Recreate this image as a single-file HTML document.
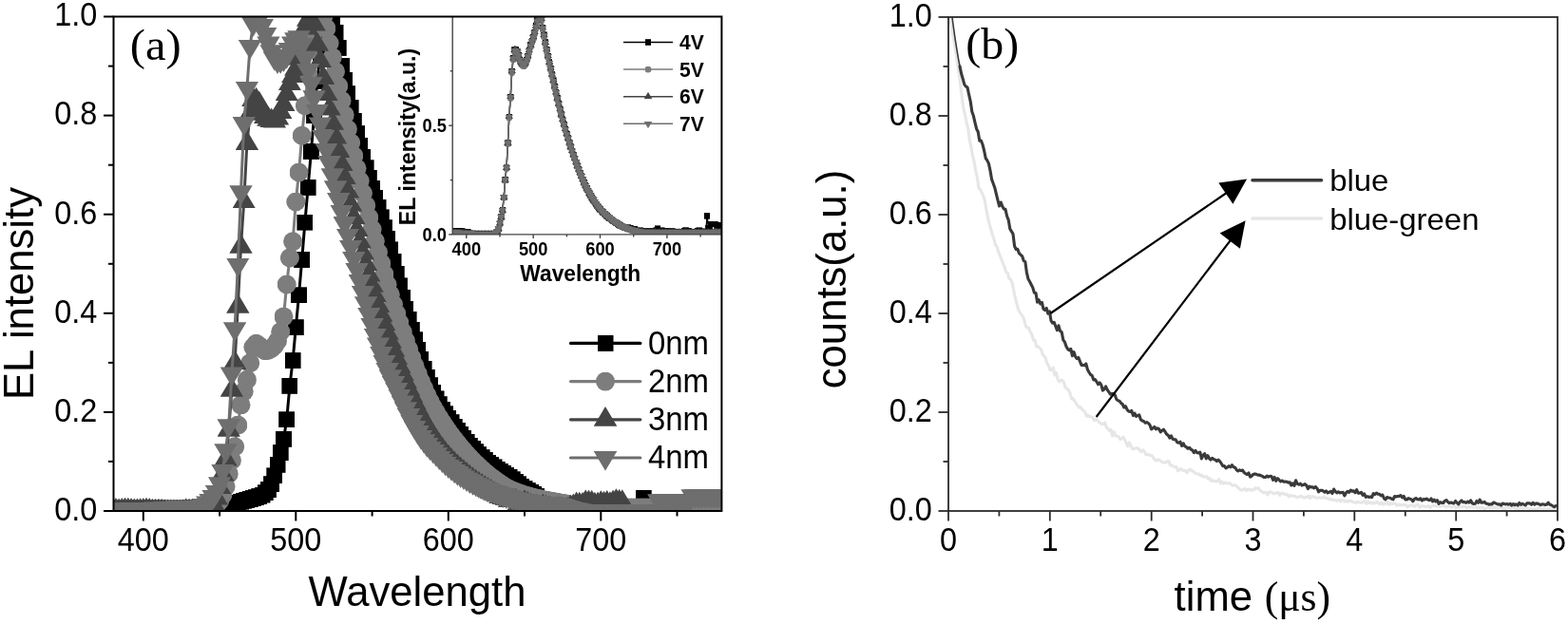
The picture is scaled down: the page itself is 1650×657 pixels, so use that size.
<!DOCTYPE html>
<html lang="en"><head><meta charset="utf-8"><title>EL spectra and decay</title>
<style>
html,body{margin:0;padding:0;background:#fff;overflow:hidden}
svg{display:block}
text{white-space:pre;fill:#000}
.s{font-family:"Liberation Sans",Arial,Helvetica,sans-serif}
.b{font-family:"Liberation Sans",Arial,Helvetica,sans-serif;font-weight:bold}
.f{font-family:"Liberation Serif","Times New Roman",Times,serif}
.m{text-anchor:middle}.e{text-anchor:end}.l{text-anchor:start}
</style></head>
<body>
<svg width="1650" height="657" viewBox="0 0 1650 657">
<defs>
<clipPath id="clipA"><rect x="119.5" y="17.5" width="639.9" height="520.5"/></clipPath>
<clipPath id="clipI"><rect x="476.2" y="17.5" width="283.2" height="229.4"/></clipPath>
<clipPath id="clipB"><rect x="998" y="18" width="641" height="520"/></clipPath>
<marker id="mS" markerUnits="userSpaceOnUse" markerWidth="17" markerHeight="17" refX="8.5" refY="8.5" viewBox="0 0 17 17"><rect width="17" height="17" fill="#000"/></marker>
<marker id="mC" markerUnits="userSpaceOnUse" markerWidth="20" markerHeight="20" refX="10" refY="10" viewBox="0 0 20 20"><circle cx="10" cy="10" r="10" fill="#7d7d7d"/></marker>
<marker id="mU" markerUnits="userSpaceOnUse" markerWidth="24.4" markerHeight="20.6" refX="12.2" refY="13.7" viewBox="0 0 24.4 20.6"><path d="M12.2 0L24.4 20.6H0z" fill="#444"/></marker>
<marker id="mD" markerUnits="userSpaceOnUse" markerWidth="24.4" markerHeight="20.6" refX="12.2" refY="6.9" viewBox="0 0 24.4 20.6"><path d="M0 0H24.4L12.2 20.6z" fill="#6e6e6e"/></marker>
<marker id="iS" markerUnits="userSpaceOnUse" markerWidth="6.6" markerHeight="6.6" refX="3.3" refY="3.3" viewBox="0 0 6.6 6.6"><rect width="6.6" height="6.6" fill="#000"/></marker>
<marker id="iC" markerUnits="userSpaceOnUse" markerWidth="7" markerHeight="7" refX="3.5" refY="3.5" viewBox="0 0 7 7"><circle cx="3.5" cy="3.5" r="3.5" fill="#7d7d7d"/></marker>
<marker id="iU" markerUnits="userSpaceOnUse" markerWidth="8.6" markerHeight="7.2" refX="4.3" refY="4.8" viewBox="0 0 8.6 7.2"><path d="M4.3 0L8.6 7.2H0z" fill="#444"/></marker>
<marker id="iD" markerUnits="userSpaceOnUse" markerWidth="8.6" markerHeight="7.2" refX="4.3" refY="2.4" viewBox="0 0 8.6 7.2"><path d="M0 0H8.6L4.3 7.2z" fill="#6e6e6e"/></marker>
</defs>
<rect width="100%" height="100%" fill="#fff"/>
<g id="dataA" clip-path="url(#clipA)">
<polyline points="118.7,538 121.9,538 125.1,538 128.3,538 131.5,538 134.8,538 138,538 141.2,538 144.4,538 147.6,538 150.8,538 154,538 157.2,538 160.4,538 163.6,538 166.9,538 170.1,538 173.3,538 176.5,538 179.7,538 182.9,538 186.1,538 189.3,538 192.5,538 195.7,538 199,538 202.2,538 205.4,538 208.6,538 211.8,538 215,538 218.2,537.9 221.4,537.8 224.6,537.6 227.8,537.3 231.1,537 234.3,536.5 237.5,535.8 240.7,534.9 243.9,533.2 247.1,531 250.3,529.2 253.5,528.1 256.7,527.2 259.9,526.4 263.1,525.5 266.4,524.6 269.6,523.7 272.8,522.6 276,521 279.2,518.8 282.4,515.6 285.6,509.7 288.8,500.9 292,489.3 295.2,476.6 298.5,462.3 301.7,441.8 304.9,406.3 308.1,379.6 311.3,344.7 314.5,310.8 317.7,273.5 320.9,234.1 324.1,197.4 327.4,159.4 330.6,121.6 333.8,85.4 337,55.4 340.2,33.1 343.4,19.9 346.6,17.5 349.8,17.5 353,34.5 356.2,50.4 359.5,69 362.7,84.3 365.9,98.7 369.1,113 372.3,127.1 375.5,140.6 378.7,153.5 381.9,165.5 385.1,176.8 388.3,187.5 391.6,198 394.8,208.2 398,218.5 401.2,228.9 404.4,239.7 407.6,251 410.8,262.9 414,275.4 417.2,288.1 420.4,300.9 423.7,313.3 426.9,325.3 430.1,336.5 433.3,347.2 436.5,357.8 439.7,368.2 442.9,378.4 446.1,388.1 449.3,397.3 452.5,405.7 455.8,413.3 459,419.9 462.2,425.7 465.4,431 468.6,435.8 471.8,440.3 475,444.7 478.2,449.1 481.4,453.4 484.6,457.5 487.9,461.5 491.1,465.4 494.3,469 497.5,472.4 500.7,475.7 503.9,478.7 507.1,481.7 510.3,484.4 513.5,487.1 516.7,489.6 520,491.9 523.2,494.1 526.4,496.2 529.6,498.2 532.8,500.3 536,502.4 539.2,504.8 542.4,507.3 545.6,509.8 548.8,512.3 552,514.6 555.3,516.6 558.5,518.5 561.7,520.4 564.9,522.6 568.1,525.3 571.3,527.6 574.5,529.2 577.7,530.5 580.9,531.7 584.2,532.8 587.4,534.1 590.6,535.5 593.8,536.7 597,537.6 600.2,538 603.4,538 606.6,538 609.8,538 613,538 616.2,538 619.5,538 622.7,538 625.9,538 629.1,538 632.3,538 635.5,538 638.7,538 641.9,538 645.1,538 648.4,538 651.6,538 654.8,538 658,538 661.2,538 664.4,538 667.6,538 670.8,538 674,538 677.2,524.5 680.5,538 683.7,538 686.9,538 690.1,538 693.3,538 696.5,538 699.7,538 702.9,538 706.1,538 709.3,538 712.5,538 715.8,538 719,538 722.2,538 725.4,538 728.6,538 731.8,538 735,538 738.2,538 741.4,538 744.7,538 747.9,538 751.1,538 754.3,538 757.5,538 760.7,538" fill="none" stroke="#000" stroke-width="3" stroke-linejoin="round" marker-start="url(#mS)" marker-mid="url(#mS)" marker-end="url(#mS)"/>
<polyline points="118.7,535.9 121.9,535.9 125.1,535.9 128.3,535.9 131.5,535.9 134.8,535.9 138,535.9 141.2,535.9 144.4,535.9 147.6,535.9 150.8,535.9 154,535.9 157.2,535.9 160.4,535.9 163.6,535.9 166.9,535.9 170.1,535.9 173.3,535.9 176.5,535.9 179.7,535.9 182.9,535.9 186.1,535.9 189.3,535.9 192.5,535.9 195.7,535.9 199,535.9 202.2,535.9 205.4,535.9 208.6,535.9 211.8,535.9 215,535.9 218.2,535.6 221.4,534.8 224.6,533.5 227.8,531.6 231.1,527.2 234.3,520.9 237.5,512.4 240.7,498.9 243.9,484.7 247.1,470.3 250.3,447.6 253.5,426.4 256.7,412.1 259.9,399.9 263.1,382.2 266.4,365.6 269.6,361.8 272.8,364.1 276,367.4 279.2,369.3 282.4,368.8 285.6,366.9 288.8,363.9 292,359 295.2,349.2 298.5,333.4 301.7,299.5 304.9,271.5 308.1,254.3 311.3,212.5 314.5,181.5 317.7,142.8 320.9,111.2 324.1,78.5 327.4,52.2 330.6,33.1 333.8,20 337,17.5 340.2,17.5 343.4,29.8 346.6,45.5 349.8,60.2 353,75.3 356.2,90.6 359.5,105.9 362.7,121.1 365.9,136 369.1,150.3 372.3,164 375.5,177.3 378.7,190.5 381.9,203.5 385.1,216.4 388.3,229 391.6,241.5 394.8,253.7 398,265.7 401.2,277.4 404.4,288.7 407.6,299.7 410.8,310.3 414,320.6 417.2,330.4 420.4,340 423.7,349.5 426.9,358.8 430.1,367.9 433.3,376.8 436.5,385.3 439.7,393.6 442.9,401.5 446.1,408.9 449.3,416 452.5,422.6 455.8,428.7 459,434.4 462.2,439.7 465.4,444.8 468.6,449.6 471.8,454.2 475,458.5 478.2,462.7 481.4,466.8 484.6,470.7 487.9,474.5 491.1,478.2 494.3,481.7 497.5,485.1 500.7,488.3 503.9,491.3 507.1,494.3 510.3,497.1 513.5,499.8 516.7,502.3 520,504.7 523.2,507 526.4,509.3 529.6,511.5 532.8,513.4 536,515.1 539.2,516.5 542.4,517.8 545.6,519 548.8,520.1 552,521.2 555.3,522.1 558.5,523 561.7,523.8 564.9,524.6 568.1,525.3 571.3,526 574.5,526.6 577.7,527.2 580.9,527.8 584.2,528.4 587.4,528.9 590.6,529.5 593.8,530.1 597,530.7 600.2,531.4 603.4,532.2 606.6,533 609.8,533.7 613,534.2 616.2,534.4 619.5,534.4 622.7,534.4 625.9,534.4 629.1,534.4 632.3,534.4 635.5,534.4 638.7,534.4 641.9,534.4 645.1,534.4 648.4,534.4 651.6,534.4 654.8,534.4 658,534.4 661.2,534.4 664.4,534.4 667.6,534.4 670.8,534.4 674,534.4 677.2,534.4 680.5,534.4 683.7,534.4 686.9,534.4 690.1,534.4 693.3,534.4 696.5,534.4 699.7,534.4 702.9,534.4 706.1,534.4 709.3,534.4 712.5,534.4 715.8,534.4 719,534.4 722.2,534.4 725.4,534.4 728.6,534.4 731.8,534.4 735,534.4 738.2,534.4 741.4,534.4 744.7,534.4 747.9,534.4 751.1,534.4 754.3,534.4 757.5,534.4 760.7,534.4" fill="none" stroke="#7d7d7d" stroke-width="3" stroke-linejoin="round" marker-start="url(#mC)" marker-mid="url(#mC)" marker-end="url(#mC)"/>
<polyline points="118.7,537.6 121.9,537.7 125.1,538.1 128.3,537.8 131.5,537.3 134.8,537.4 138,537.7 141.2,538.1 144.4,538.1 147.6,537.9 150.8,537.8 154,537.3 157.2,537.7 160.4,538.4 163.6,538.4 166.9,538.3 170.1,538.4 173.3,538.9 176.5,539.1 179.7,539.3 182.9,539.2 186.1,539.2 189.3,539.2 192.5,539 195.7,538 199,538.2 202.2,538.1 205.4,538.5 208.6,538.2 211.8,538 215,536.8 218.2,535.8 221.4,533.6 224.6,531 227.8,524.7 231.1,513.4 234.3,499.7 237.5,483.6 240.7,452.9 243.9,410.9 247.1,382.1 250.3,322.8 253.5,259.8 256.7,212.5 259.9,151 263.1,119.8 266.4,105.1 269.6,105.5 272.8,109.4 276,115.9 279.2,123.1 282.4,125.8 285.6,127.1 288.8,127.6 292,124.7 295.2,118.1 298.5,110.4 301.7,99.4 304.9,88.5 308.1,80.5 311.3,72.8 314.5,61.7 317.7,44.1 320.9,29.7 324.1,20.9 327.4,20.9 330.6,25.7 333.8,46.9 337,64.5 340.2,82.2 343.4,99 346.6,114.7 349.8,129.9 353,144.6 356.2,159 359.5,173.3 362.7,187.5 365.9,201.6 369.1,215.6 372.3,229.3 375.5,242.3 378.7,254.7 381.9,266.7 385.1,278.4 388.3,289.8 391.6,300.9 394.8,311.6 398,322 401.2,332 404.4,341.6 407.6,350.8 410.8,359.9 414,368.8 417.2,377.5 420.4,386 423.7,394.2 426.9,402.2 430.1,409.9 433.3,417.3 436.5,424.3 439.7,430.9 442.9,437.2 446.1,443.1 449.3,448.8 452.5,454.2 455.8,459.4 459,464.3 462.2,468.9 465.4,473.3 468.6,477.4 471.8,481.2 475,484.7 478.2,488.1 481.4,491.2 484.6,494.2 487.9,497 491.1,499.8 494.3,502.4 497.5,504.9 500.7,507.3 503.9,509.5 507.1,511.7 510.3,513.8 513.5,515.8 516.7,517.8 520,519.7 523.2,521.5 526.4,523 529.6,524.3 532.8,525.5 536,527.2 539.2,527.4 542.4,527.6 545.6,530.7 548.8,530.6 552,529 555.3,530.5 558.5,532.4 561.7,533.5 564.9,533.7 568.1,536 571.3,533.3 574.5,534.5 577.7,535.2 580.9,537.5 584.2,537.1 587.4,535.9 590.6,536.6 593.8,537.8 597,536.6 600.2,534.3 603.4,533.2 606.6,531.1 609.8,531.4 613,531.7 616.2,529.1 619.5,529.4 622.7,529.6 625.9,531.5 629.1,531.3 632.3,530 635.5,530.5 638.7,529.8 641.9,531 645.1,529.3 648.4,528 651.6,528.6 654.8,528.9 658,572.5 661.2,571.4 664.4,573.1 667.6,571.4 670.8,573.1 674,573.2 677.2,573.5 680.5,571.7 683.7,572.6 686.9,572.6 690.1,572.6 693.3,572.6 696.5,572.6 699.7,572.6 702.9,572.6 706.1,572.6 709.3,572.6 712.5,572.6 715.8,572.6 719,572.6 722.2,572.6 725.4,572.6 728.6,572.6 731.8,572.6 735,572.6 738.2,572.6 741.4,572.6 744.7,572.6 747.9,572.6 751.1,572.6 754.3,572.6 757.5,572.6 760.7,572.6" fill="none" stroke="#444" stroke-width="3" stroke-linejoin="round" marker-start="url(#mU)" marker-mid="url(#mU)" marker-end="url(#mU)"/>
<polyline points="118.7,536.7 121.9,536.5 125.1,536.2 128.3,536.3 131.5,536.4 134.8,536.7 138,535.8 141.2,535.6 144.4,537.3 147.6,536.9 150.8,537.2 154,537.6 157.2,538 160.4,536.8 163.6,535.3 166.9,536.1 170.1,536 173.3,535.2 176.5,535.6 179.7,535.3 182.9,534.6 186.1,534.2 189.3,534.7 192.5,535.3 195.7,534.5 199,534.4 202.2,534.5 205.4,534.2 208.6,533.7 211.8,533.3 215,531.8 218.2,529.3 221.4,526.7 224.6,522.8 227.8,517.5 231.1,509.1 234.3,495.5 237.5,474.1 240.7,448.2 243.9,393.3 247.1,346.2 250.3,278.5 253.5,202.2 256.7,129.7 259.9,92.7 263.1,48.9 266.4,25 269.6,14.1 272.8,19.3 276,26.5 279.2,35.7 282.4,45.3 285.6,54.2 288.8,61.1 292,64.4 295.2,64.1 298.5,62.2 301.7,58.9 304.9,51.7 308.1,45.3 311.3,41.2 314.5,39.1 317.7,47 320.9,61 324.1,73.8 327.4,87.7 330.6,102.1 333.8,116.5 337,130.3 340.2,143.9 343.4,157.5 346.6,171 349.8,184.2 353,197.2 356.2,209.9 359.5,222.6 362.7,235 365.9,247.4 369.1,259.7 372.3,271.9 375.5,283.9 378.7,295.9 381.9,307.6 385.1,319.2 388.3,330.7 391.6,341.9 394.8,352.4 398,362.3 401.2,371.8 404.4,380.7 407.6,388.9 410.8,396.2 414,403 417.2,409.6 420.4,416.4 423.7,423.3 426.9,430.1 430.1,436.9 433.3,443.5 436.5,449.4 439.7,454.8 442.9,459.8 446.1,464.1 449.3,468 452.5,471.4 455.8,474.8 459,478.1 462.2,481.4 465.4,484.5 468.6,487.6 471.8,490.4 475,493 478.2,495.6 481.4,498 484.6,500.2 487.9,502.3 491.1,504.3 494.3,506.2 497.5,508 500.7,509.6 503.9,511.2 507.1,512.7 510.3,514.1 513.5,515.5 516.7,516.7 520,518 523.2,519.1 526.4,520.2 529.6,521.2 532.8,522.2 536,523.2 539.2,524.1 542.4,525.1 545.6,525.9 548.8,526.7 552,527.3 555.3,527.8 558.5,528.2 561.7,528.6 564.9,528.9 568.1,529.1 571.3,529.4 574.5,529.7 577.7,530 580.9,530.3 584.2,530.7 587.4,531.1 590.6,531.7 593.8,532.5 597,533.5 600.2,534.5 603.4,535.5 606.6,536.3 609.8,537.1 613,537.6 616.2,537.7 619.5,537.7 622.7,537.7 625.9,537.7 629.1,537.7 632.3,537.7 635.5,537.7 638.7,537.7 641.9,537.7 645.1,537.7 648.4,537.7 651.6,537.7 654.8,537.7 658,537.7 661.2,537.7 664.4,537.7 667.6,537.7 670.8,537.7 674,537.7 677.2,537.7 680.5,537.7 683.7,537.7 686.9,537.7 690.1,537.7 693.3,527.1 696.5,527.1 699.7,527.1 702.9,527.1 706.1,527.1 709.3,527.1 712.5,527.1 715.8,527.1 719,527.1 722.2,527.1 725.4,527.1 728.6,522.1 731.8,522.1 735,522.1 738.2,522.1 741.4,522.1 744.7,522.1 747.9,522.1 751.1,522.1 754.3,522.1 757.5,522.1 760.7,522.1" fill="none" stroke="#6e6e6e" stroke-width="3" stroke-linejoin="round" marker-start="url(#mD)" marker-mid="url(#mD)" marker-end="url(#mD)"/>
</g>
<rect x="476.2" y="17.5" width="283.2" height="229.4" fill="#fff"/>
<g id="dataI" clip-path="url(#clipI)">
<polyline points="476.7,243.2 478.1,243.3 479.5,243.3 480.9,243.4 482.4,243.5 483.8,243.5 485.2,243.6 486.6,243.7 488,243.8 489.4,243.8 490.8,243.9 492.2,244 493.6,246 495,246.1 496.4,246.3 497.8,246.4 499.2,246.6 500.7,246.7 502.1,246.8 503.5,246.9 504.9,246.9 506.3,246.9 507.7,246.9 509.1,246.9 510.5,246.9 511.9,246.9 513.3,246.9 514.7,246.9 516.1,246.9 517.5,246.9 518.9,246.9 520.4,246.5 521.8,245.6 523.2,244.1 524.6,240.9 526,235.2 527.4,228.5 528.8,221.3 530.2,207.9 531.6,189.4 533,176.7 534.4,150.6 535.8,122.8 537.2,101.9 538.7,74.8 540.1,61.1 541.5,52.5 542.9,52.5 544.3,54.2 545.7,58 547.1,62.9 548.5,65.5 549.9,67.3 551.3,68 552.7,66.4 554.1,63 555.5,58.9 556.9,53 558.4,47.3 559.8,43 561.2,38.9 562.6,33.9 564,27.3 565.4,21.4 566.8,17.5 568.2,17.5 569.6,19.6 571,29 572.4,36.7 573.8,44.5 575.2,51.9 576.7,58.9 578.1,65.5 579.5,72 580.9,78.4 582.3,84.7 583.7,90.9 585.1,97.2 586.5,103.3 587.9,109.3 589.3,115.1 590.7,120.5 592.1,125.8 593.5,131 594.9,136 596.4,140.9 597.8,145.6 599.2,150.2 600.6,154.6 602,158.8 603.4,162.9 604.8,166.9 606.2,170.8 607.6,174.7 609,178.4 610.4,182 611.8,185.6 613.2,188.9 614.7,192.2 616.1,195.3 617.5,198.2 618.9,201 620.3,203.6 621.7,206.1 623.1,208.5 624.5,210.7 625.9,212.9 627.3,215 628.7,216.9 630.1,218.7 631.5,220.4 632.9,221.9 634.4,223.4 635.8,224.8 637.2,226.1 638.6,227.4 640,228.6 641.4,229.7 642.8,230.8 644.2,231.9 645.6,232.9 647,233.8 648.4,234.7 649.8,235.6 651.2,236.5 652.7,237.3 654.1,238.1 655.5,238.8 656.9,239.4 658.3,240 659.7,239.8 661.1,239.6 662.5,239.9 663.9,240.7 665.3,241.6 666.7,242.3 668.1,240.8 669.5,243.1 670.9,243.3 672.4,243.3 673.8,242.7 675.2,244.3 676.6,243 678,243.8 679.4,243.8 680.8,244.6 682.2,243.3 683.6,243.8 685,244.1 686.4,244.7 687.8,243.3 689.2,244 690.7,242.6 692.1,240.7 693.5,244.9 694.9,244.4 696.3,242.7 697.7,243.6 699.1,243 700.5,242.8 701.9,243.5 703.3,244.8 704.7,244.5 706.1,243.7 707.5,243.6 708.9,244.9 710.4,244.6 711.8,244.8 713.2,244.2 714.6,243.8 716,244.6 717.4,244.5 718.8,245 720.2,242.9 721.6,242.6 723,244.6 724.4,243.2 725.8,244 727.2,244.8 728.7,244.6 730.1,244 731.5,243.8 732.9,245 734.3,243 735.7,242.7 737.1,244.7 738.5,243.7 739.9,244.7 741.3,244.2 742.7,245 744.1,227.4 745.5,240 746.9,240 748.4,235.9 749.8,235.9 751.2,235.9 752.6,235.9 754,237.3 755.4,237.3 756.8,237.3 758.2,237.3" fill="none" stroke="#000" stroke-width="1.4" stroke-linejoin="round" marker-start="url(#iS)" marker-mid="url(#iS)" marker-end="url(#iS)"/>
<polyline points="476.7,245.1 478.1,245.1 479.5,245.2 480.9,245.2 482.4,245.3 483.8,245.4 485.2,245.4 486.6,245.5 488,245.6 489.4,245.7 490.8,245.8 492.2,245.9 493.6,246 495,246.1 496.4,246.3 497.8,246.4 499.2,246.6 500.7,246.7 502.1,246.8 503.5,246.9 504.9,246.9 506.3,246.9 507.7,246.9 509.1,246.9 510.5,246.9 511.9,246.9 513.3,246.9 514.7,246.9 516.1,246.9 517.5,246.9 518.9,246.9 520.4,246.5 521.8,245.6 523.2,244.2 524.6,240.9 526,235.3 527.4,228.7 528.8,221.6 530.2,208.3 531.6,190 533,177.4 534.4,151.5 535.8,124 537.2,103.4 538.7,76.6 540.1,62.9 541.5,54.4 542.9,54.4 544.3,56.1 545.7,59.9 547.1,64.8 548.5,67.4 549.9,69 551.3,69.8 552.7,68.2 554.1,64.8 555.5,60.7 556.9,55 558.4,49.3 559.8,45 561.2,41 562.6,36 564,29.5 565.4,23.7 566.8,19.8 568.2,19.8 569.6,21.9 571,31.1 572.4,38.8 573.8,46.5 575.2,53.9 576.7,60.7 578.1,67.4 579.5,73.8 580.9,80.1 582.3,86.3 583.7,92.5 585.1,98.7 586.5,104.8 587.9,110.7 589.3,116.4 590.7,121.8 592.1,127 593.5,132.1 594.9,137.1 596.4,142 597.8,146.7 599.2,151.2 600.6,155.5 602,159.7 603.4,163.7 604.8,167.7 606.2,171.6 607.6,175.4 609,179.1 610.4,182.7 611.8,186.2 613.2,189.5 614.7,192.7 616.1,195.8 617.5,198.7 618.9,201.4 620.3,204 621.7,206.5 623.1,208.9 624.5,211.1 625.9,213.2 627.3,215.3 628.7,217.2 630.1,219 631.5,220.6 632.9,222.2 634.4,223.6 635.8,225 637.2,226.3 638.6,227.6 640,228.7 641.4,229.9 642.8,231 644.2,232 645.6,233 647,234 648.4,234.9 649.8,235.7 651.2,236.6 652.7,237.4 654.1,238.2 655.5,238.9 656.9,239.5 658.3,240.1 659.7,240.6 661.1,241.1 662.5,241.6 663.9,242.1 665.3,242.5 666.7,242.8 668.1,243.1 669.5,243.5 670.9,243.8 672.4,244 673.8,244.3 675.2,244.5 676.6,244.6 678,244.7 679.4,244.7 680.8,244.8 682.2,244.8 683.6,244.8 685,244.9 686.4,244.9 687.8,244.9 689.2,245 690.7,245 692.1,245 693.5,245 694.9,245 696.3,245.1 697.7,245.1 699.1,245.1 700.5,245.1 701.9,245.1 703.3,245.1 704.7,245.1 706.1,245.1 707.5,245.1 708.9,245.1 710.4,245.1 711.8,245.1 713.2,245.1 714.6,245.1 716,245.1 717.4,245.1 718.8,245.1 720.2,245.1 721.6,245.1 723,245.1 724.4,245.1 725.8,245.1 727.2,245.1 728.7,245.1 730.1,245.1 731.5,245.1 732.9,245.1 734.3,245.1 735.7,245.1 737.1,245.1 738.5,245.1 739.9,245.1 741.3,245.1 742.7,245.1 744.1,245.1 745.5,245.1 746.9,245.1 748.4,245.1 749.8,245.1 751.2,245.1 752.6,245.1 754,245.1 755.4,245.1 756.8,245.1 758.2,245.1" fill="none" stroke="#7d7d7d" stroke-width="1.4" stroke-linejoin="round" marker-start="url(#iC)" marker-mid="url(#iC)" marker-end="url(#iC)"/>
<polyline points="476.7,245.1 478.1,245.1 479.5,245.2 480.9,245.2 482.4,245.3 483.8,245.4 485.2,245.4 486.6,245.5 488,245.6 489.4,245.7 490.8,245.8 492.2,245.9 493.6,246 495,246.1 496.4,246.3 497.8,246.4 499.2,246.6 500.7,246.7 502.1,246.8 503.5,246.9 504.9,246.9 506.3,246.9 507.7,246.9 509.1,246.9 510.5,246.9 511.9,246.9 513.3,246.9 514.7,246.9 516.1,246.9 517.5,246.9 518.9,246.9 520.4,246.5 521.8,245.6 523.2,244.1 524.6,240.9 526,235.2 527.4,228.5 528.8,221.3 530.2,207.9 531.6,189.4 533,176.7 534.4,150.6 535.8,122.8 537.2,101.9 538.7,74.8 540.1,61.1 541.5,52.5 542.9,52.5 544.3,54.2 545.7,58 547.1,62.9 548.5,65.5 549.9,67.3 551.3,68 552.7,66.4 554.1,63 555.5,58.9 556.9,53 558.4,47.3 559.8,43 561.2,38.9 562.6,33.9 564,27.3 565.4,21.4 566.8,17.5 568.2,17.5 569.6,19.6 571,29 572.4,36.7 573.8,44.5 575.2,51.9 576.7,58.9 578.1,65.5 579.5,72 580.9,78.4 582.3,84.7 583.7,90.9 585.1,97.2 586.5,103.3 587.9,109.3 589.3,115.1 590.7,120.5 592.1,125.8 593.5,131 594.9,136 596.4,140.9 597.8,145.6 599.2,150.2 600.6,154.6 602,158.8 603.4,162.9 604.8,166.9 606.2,170.8 607.6,174.7 609,178.4 610.4,182 611.8,185.6 613.2,188.9 614.7,192.2 616.1,195.3 617.5,198.2 618.9,201 620.3,203.6 621.7,206.1 623.1,208.5 624.5,210.7 625.9,212.9 627.3,215 628.7,216.9 630.1,218.7 631.5,220.4 632.9,221.9 634.4,223.4 635.8,224.8 637.2,226.1 638.6,227.4 640,228.6 641.4,229.7 642.8,230.8 644.2,231.9 645.6,232.9 647,233.8 648.4,234.7 649.8,235.6 651.2,236.5 652.7,237.3 654.1,238.1 655.5,238.8 656.9,239.4 658.3,240 659.7,240.6 661.1,241.1 662.5,241.6 663.9,242 665.3,242.4 666.7,242.8 668.1,243.1 669.5,243.4 670.9,243.7 672.4,244 673.8,244.3 675.2,244.4 676.6,244.6 678,244.6 679.4,244.7 680.8,244.7 682.2,244.8 683.6,244.8 685,244.9 686.4,244.9 687.8,244.9 689.2,244.9 690.7,245 692.1,245 693.5,245 694.9,245 696.3,245 697.7,245.1 699.1,245.1 700.5,245.1 701.9,245.1 703.3,245.1 704.7,245.1 706.1,245.1 707.5,245.1 708.9,245.1 710.4,245.1 711.8,245.1 713.2,245.1 714.6,245.1 716,245.1 717.4,245.1 718.8,245.1 720.2,245.1 721.6,245.1 723,245.1 724.4,245.1 725.8,245.1 727.2,245.1 728.7,245.1 730.1,245.1 731.5,245.1 732.9,245.1 734.3,245.1 735.7,245.1 737.1,245.1 738.5,245.1 739.9,245.1 741.3,245.1 742.7,245.1 744.1,245.1 745.5,245.1 746.9,245.1 748.4,245.1 749.8,245.1 751.2,245.1 752.6,245.1 754,245.1 755.4,245.1 756.8,245.1 758.2,245.1" fill="none" stroke="#444" stroke-width="1.4" stroke-linejoin="round" marker-start="url(#iU)" marker-mid="url(#iU)" marker-end="url(#iU)"/>
<polyline points="476.7,244.6 478.1,244.7 479.5,244.7 480.9,244.8 482.4,244.8 483.8,244.9 485.2,245 486.6,245.1 488,245.1 489.4,245.2 490.8,245.3 492.2,245.4 493.6,245.5 495,245.7 496.4,245.8 497.8,246 499.2,246.1 500.7,246.2 502.1,246.3 503.5,246.4 504.9,246.4 506.3,246.4 507.7,246.4 509.1,246.4 510.5,246.4 511.9,246.4 513.3,246.4 514.7,246.4 516.1,246.4 517.5,246.4 518.9,246.4 520.4,246.1 521.8,245.1 523.2,243.7 524.6,240.5 526,234.8 527.4,228.2 528.8,221 530.2,207.7 531.6,189.2 533,176.6 534.4,150.6 535.8,123 537.2,102.2 538.7,75.3 540.1,61.6 541.5,53 542.9,53 544.3,54.7 545.7,58.5 547.1,63.4 548.5,66 549.9,67.7 551.3,68.4 552.7,66.9 554.1,63.4 555.5,59.3 556.9,53.5 558.4,47.9 559.8,43.5 561.2,39.5 562.6,34.5 564,28 565.4,22.1 566.8,18.2 568.2,18.2 569.6,20.3 571,29.6 572.4,37.3 573.8,45.1 575.2,52.4 576.7,59.3 578.1,66 579.5,72.5 580.9,78.8 582.3,85 583.7,91.2 585.1,97.5 586.5,103.6 587.9,109.6 589.3,115.3 590.7,120.7 592.1,126 593.5,131.1 594.9,136.1 596.4,141 597.8,145.7 599.2,150.2 600.6,154.6 602,158.8 603.4,162.9 604.8,166.8 606.2,170.7 607.6,174.6 609,178.3 610.4,181.9 611.8,185.4 613.2,188.8 614.7,192 616.1,195.1 617.5,198 618.9,200.8 620.3,203.3 621.7,205.8 623.1,208.2 624.5,210.5 625.9,212.6 627.3,214.7 628.7,216.6 630.1,218.4 631.5,220 632.9,221.6 634.4,223.1 635.8,224.4 637.2,225.8 638.6,227 640,228.2 641.4,229.3 642.8,230.4 644.2,231.5 645.6,232.5 647,233.4 648.4,234.3 649.8,235.2 651.2,236.1 652.7,236.9 654.1,237.7 655.5,238.4 656.9,239 658.3,239.6 659.7,240.1 661.1,240.6 662.5,241.1 663.9,241.6 665.3,242 666.7,242.3 668.1,242.7 669.5,243 670.9,243.3 672.4,243.6 673.8,243.8 675.2,244 676.6,244.1 678,244.2 679.4,244.2 680.8,244.3 682.2,244.3 683.6,244.4 685,244.4 686.4,244.4 687.8,244.5 689.2,244.5 690.7,244.5 692.1,244.5 693.5,244.6 694.9,244.6 696.3,244.6 697.7,244.6 699.1,244.6 700.5,244.6 701.9,244.6 703.3,244.6 704.7,244.6 706.1,244.6 707.5,244.6 708.9,244.6 710.4,244.6 711.8,244.6 713.2,244.6 714.6,244.6 716,244.6 717.4,244.6 718.8,244.6 720.2,244.6 721.6,244.6 723,244.6 724.4,244.6 725.8,244.6 727.2,244.6 728.7,244.6 730.1,244.6 731.5,244.6 732.9,244.6 734.3,244.6 735.7,244.6 737.1,244.6 738.5,244.6 739.9,244.6 741.3,244.6 742.7,244.6 744.1,244.6 745.5,244.6 746.9,244.6 748.4,244.6 749.8,244.6 751.2,244.6 752.6,244.6 754,244.6 755.4,244.6 756.8,244.6 758.2,244.6" fill="none" stroke="#6e6e6e" stroke-width="1.4" stroke-linejoin="round" marker-start="url(#iD)" marker-mid="url(#iD)" marker-end="url(#iD)"/>
</g>
<line x1="476.2" y1="17.5" x2="476.2" y2="246.9" stroke="#444" stroke-width="1.4"/>
<line x1="476.2" y1="246.9" x2="759.4" y2="246.9" stroke="#444" stroke-width="1.4"/>
<line x1="490.8" y1="246.9" x2="490.8" y2="250.9" stroke="#444" stroke-width="1.4"/>
<text class="b m" transform="translate(490.8 269.2) scale(0.915 1)" font-size="20">400</text>
<line x1="526" y1="246.9" x2="526" y2="249.4" stroke="#444" stroke-width="1.4"/>
<line x1="561.2" y1="246.9" x2="561.2" y2="250.9" stroke="#444" stroke-width="1.4"/>
<text class="b m" transform="translate(561.2 269.2) scale(0.915 1)" font-size="20">500</text>
<line x1="596.4" y1="246.9" x2="596.4" y2="249.4" stroke="#444" stroke-width="1.4"/>
<line x1="631.5" y1="246.9" x2="631.5" y2="250.9" stroke="#444" stroke-width="1.4"/>
<text class="b m" transform="translate(631.5 269.2) scale(0.915 1)" font-size="20">600</text>
<line x1="666.7" y1="246.9" x2="666.7" y2="249.4" stroke="#444" stroke-width="1.4"/>
<line x1="701.9" y1="246.9" x2="701.9" y2="250.9" stroke="#444" stroke-width="1.4"/>
<text class="b m" transform="translate(701.9 269.2) scale(0.915 1)" font-size="20">700</text>
<line x1="737.1" y1="246.9" x2="737.1" y2="249.4" stroke="#444" stroke-width="1.4"/>
<line x1="472.2" y1="246.9" x2="476.2" y2="246.9" stroke="#444" stroke-width="1.4"/>
<text class="b e" transform="translate(470 253.7) scale(0.915 1)" font-size="20">0.0</text>
<line x1="473.7" y1="189.6" x2="476.2" y2="189.6" stroke="#444" stroke-width="1.4"/>
<line x1="472.2" y1="132.2" x2="476.2" y2="132.2" stroke="#444" stroke-width="1.4"/>
<text class="b e" transform="translate(470 139) scale(0.915 1)" font-size="20">0.5</text>
<line x1="473.7" y1="74.8" x2="476.2" y2="74.8" stroke="#444" stroke-width="1.4"/>
<text class="b m" transform="translate(610.8 295.5) scale(0.957 1)" font-size="23.8">Wavelength</text>
<text class="b m" transform="translate(437 144) rotate(-90) scale(0.976 1)" font-size="23.8">EL intensity(a.u.)</text>
<polyline points="656,44.5 682,44.5 708,44.5" fill="none" stroke="#000" stroke-width="1.5" marker-mid="url(#iS)"/>
<text class="b l" transform="translate(715 52.1) scale(0.935 1)" font-size="22.5">4V</text>
<polyline points="656,73.1 682,73.1 708,73.1" fill="none" stroke="#7d7d7d" stroke-width="1.5" marker-mid="url(#iC)"/>
<text class="b l" transform="translate(715 80.7) scale(0.935 1)" font-size="22.5">5V</text>
<polyline points="656,101.7 682,101.7 708,101.7" fill="none" stroke="#444" stroke-width="1.5" marker-mid="url(#iU)"/>
<text class="b l" transform="translate(715 109.3) scale(0.935 1)" font-size="22.5">6V</text>
<polyline points="656,130.3 682,130.3 708,130.3" fill="none" stroke="#6e6e6e" stroke-width="1.5" marker-mid="url(#iD)"/>
<text class="b l" transform="translate(715 137.9) scale(0.935 1)" font-size="22.5">7V</text>
<g id="plotA">
<rect x="119.5" y="17.5" width="639.9" height="520.5" fill="none" stroke="#000" stroke-width="2"/>
<line x1="109" y1="538" x2="119.5" y2="538" stroke="#000" stroke-width="2"/>
<text class="s e" transform="translate(102.3 547.8) scale(0.9 1)" font-size="36">0.0</text>
<line x1="114" y1="485.9" x2="119.5" y2="485.9" stroke="#000" stroke-width="2"/>
<line x1="109" y1="433.9" x2="119.5" y2="433.9" stroke="#000" stroke-width="2"/>
<text class="s e" transform="translate(102.3 443.7) scale(0.9 1)" font-size="36">0.2</text>
<line x1="114" y1="381.9" x2="119.5" y2="381.9" stroke="#000" stroke-width="2"/>
<line x1="109" y1="329.8" x2="119.5" y2="329.8" stroke="#000" stroke-width="2"/>
<text class="s e" transform="translate(102.3 339.6) scale(0.9 1)" font-size="36">0.4</text>
<line x1="114" y1="277.8" x2="119.5" y2="277.8" stroke="#000" stroke-width="2"/>
<line x1="109" y1="225.7" x2="119.5" y2="225.7" stroke="#000" stroke-width="2"/>
<text class="s e" transform="translate(102.3 235.5) scale(0.9 1)" font-size="36">0.6</text>
<line x1="114" y1="173.7" x2="119.5" y2="173.7" stroke="#000" stroke-width="2"/>
<line x1="109" y1="121.6" x2="119.5" y2="121.6" stroke="#000" stroke-width="2"/>
<text class="s e" transform="translate(102.3 131.4) scale(0.9 1)" font-size="36">0.8</text>
<line x1="114" y1="69.6" x2="119.5" y2="69.6" stroke="#000" stroke-width="2"/>
<line x1="109" y1="17.5" x2="119.5" y2="17.5" stroke="#000" stroke-width="2"/>
<text class="s e" transform="translate(102.3 27.3) scale(0.9 1)" font-size="36">1.0</text>
<line x1="150.8" y1="538" x2="150.8" y2="548.5" stroke="#000" stroke-width="2"/>
<text class="s m" transform="translate(150.8 580) scale(0.9 1)" font-size="36">400</text>
<line x1="231.1" y1="538" x2="231.1" y2="543.5" stroke="#000" stroke-width="2"/>
<line x1="311.3" y1="538" x2="311.3" y2="548.5" stroke="#000" stroke-width="2"/>
<text class="s m" transform="translate(311.3 580) scale(0.9 1)" font-size="36">500</text>
<line x1="391.6" y1="538" x2="391.6" y2="543.5" stroke="#000" stroke-width="2"/>
<line x1="471.8" y1="538" x2="471.8" y2="548.5" stroke="#000" stroke-width="2"/>
<text class="s m" transform="translate(471.8 580) scale(0.9 1)" font-size="36">600</text>
<line x1="552" y1="538" x2="552" y2="543.5" stroke="#000" stroke-width="2"/>
<line x1="632.3" y1="538" x2="632.3" y2="548.5" stroke="#000" stroke-width="2"/>
<text class="s m" transform="translate(632.3 580) scale(0.9 1)" font-size="36">700</text>
<line x1="712.5" y1="538" x2="712.5" y2="543.5" stroke="#000" stroke-width="2"/>
<text class="s m" transform="translate(439 637.5) scale(0.97 1)" font-size="45">Wavelength</text>
<text class="s m" transform="translate(34.6 309) rotate(-90) scale(0.97 1)" font-size="45">EL intensity</text>
<text class="f m" transform="translate(163.8 62.6) scale(1.045 1)" font-size="46.5">(a)</text>
<polyline points="600.5,361.4 637,361.4 673.8,361.4" fill="none" stroke="#000" stroke-width="3.2" stroke-linecap="round" marker-mid="url(#mS)"/>
<text class="s l" transform="translate(682 372.7) scale(0.914 1)" font-size="36">0nm</text>
<polyline points="600.5,401.6 637,401.6 673.8,401.6" fill="none" stroke="#7d7d7d" stroke-width="3.2" stroke-linecap="round" marker-mid="url(#mC)"/>
<text class="s l" transform="translate(682 412.9) scale(0.914 1)" font-size="36">2nm</text>
<polyline points="600.5,441.8 637,441.8 673.8,441.8" fill="none" stroke="#444" stroke-width="3.2" stroke-linecap="round" marker-mid="url(#mU)"/>
<text class="s l" transform="translate(682 453.1) scale(0.914 1)" font-size="36">3nm</text>
<polyline points="600.5,482 637,482 673.8,482" fill="none" stroke="#6e6e6e" stroke-width="3.2" stroke-linecap="round" marker-mid="url(#mD)"/>
<text class="s l" transform="translate(682 493.3) scale(0.914 1)" font-size="36">4nm</text>
</g>
<g id="plotB">
<g clip-path="url(#clipB)">
<polyline points="999.5,18.6 1001.1,26.6 1002.7,36 1004.3,45.2 1005.9,55.5 1007.5,66.6 1009.1,77.3 1010.7,88.9 1012.3,103 1013.9,114.4 1015.5,120.8 1017.1,128.9 1018.7,135.5 1020.3,147 1021.9,154.8 1023.5,163.6 1025.1,170.5 1026.7,179.8 1028.3,186.5 1029.9,198 1031.5,199.4 1033.1,202.8 1034.7,206.1 1036.3,211.2 1037.9,220.5 1039.5,228.8 1041.1,235.9 1042.7,241.1 1044.3,247 1045.9,251.6 1047.5,257.9 1049.1,259.7 1050.7,265.2 1052.3,269.1 1053.9,273.2 1055.5,277.7 1057.1,281.2 1058.7,286.6 1060.3,287.2 1061.9,293.6 1063.5,294 1065.1,298.1 1066.7,305.5 1068.3,313.5 1069.9,319.6 1071.5,325.6 1073.1,328.8 1074.7,331.1 1076.3,333.3 1077.9,337.4 1079.5,343.7 1081.1,345.1 1082.7,345.6 1084.3,349.7 1085.9,352.6 1087.5,358.2 1089.1,358.4 1090.7,365 1092.3,364.7 1093.9,366.3 1095.5,368 1097.1,373.4 1098.7,374.6 1100.3,377.1 1101.9,382.9 1103.5,385 1105.1,389.7 1106.7,389.8 1108.3,387.1 1109.9,395 1111.5,392.3 1113.1,399.7 1114.7,401.9 1116.3,400 1117.9,400.7 1119.5,402.4 1121.1,408.4 1122.7,409 1124.3,410.8 1125.9,413.8 1127.5,419.9 1129.1,419.4 1130.7,422.1 1132.3,424.3 1133.9,426.8 1135.5,429 1137.1,428.3 1138.7,431.1 1140.3,432.2 1141.9,434 1143.5,438.3 1145.1,437.1 1146.7,438.8 1148.3,438.8 1149.9,439.8 1151.5,442.7 1153.1,441.5 1154.7,442.2 1156.3,444.4 1157.9,445.2 1159.5,446.5 1161.1,446.6 1162.7,445 1164.3,449.9 1165.9,451.2 1167.5,453.6 1169.1,452.4 1170.7,458.9 1172.3,454.8 1173.9,459 1175.5,459.2 1177.1,459.5 1178.7,462.5 1180.3,462 1181.9,460.2 1183.5,462.9 1185.1,466.3 1186.7,469.9 1188.3,465.9 1189.9,469.2 1191.5,472.4 1193.1,472.4 1194.7,472.1 1196.3,471.7 1197.9,472.2 1199.5,474.4 1201.1,475.7 1202.7,473.9 1204.3,475.4 1205.9,478.7 1207.5,478.4 1209.1,478.6 1210.7,479.7 1212.3,479.8 1213.9,482.6 1215.5,484.1 1217.1,485.1 1218.7,483.8 1220.3,484.4 1221.9,485.8 1223.5,486.7 1225.1,486.9 1226.7,487.2 1228.3,485.7 1229.9,485.5 1231.5,489.9 1233.1,489.9 1234.7,491.3 1236.3,491.4 1237.9,491.8 1239.5,495.8 1241.1,494.9 1242.7,493.3 1244.3,495.2 1245.9,495.2 1247.5,495.6 1249.1,497.8 1250.7,495.2 1252.3,493.9 1253.9,495.9 1255.5,495.7 1257.1,497.9 1258.7,498.3 1260.3,499.3 1261.9,499 1263.5,500.9 1265.1,500.5 1266.7,502.3 1268.3,502 1269.9,501.8 1271.5,504.3 1273.1,503.5 1274.7,506.6 1276.3,506 1277.9,506.5 1279.5,506.6 1281.1,506.8 1282.7,504.6 1284.3,509 1285.9,507.1 1287.5,509.3 1289.1,507.9 1290.7,508.8 1292.3,509.1 1293.9,508.6 1295.5,510 1297.1,511.3 1298.7,511 1300.3,510.9 1301.9,512.5 1303.5,514.1 1305.1,515.7 1306.7,515.9 1308.3,515.7 1309.9,514.5 1311.5,516.4 1313.1,515.4 1314.7,515.1 1316.3,516.2 1317.9,515.8 1319.5,515.6 1321.1,513.8 1322.7,514.4 1324.3,513.8 1325.9,516.4 1327.5,517.1 1329.1,518.8 1330.7,518.6 1332.3,518.3 1333.9,521 1335.5,518 1337.1,517.8 1338.7,518.6 1340.3,519.9 1341.9,519.1 1343.5,519.1 1345.1,518.6 1346.7,521.3 1348.3,519.5 1349.9,519.3 1351.5,520.5 1353.1,520.2 1354.7,521.1 1356.3,522.9 1357.9,521.5 1359.5,522.2 1361.1,522.1 1362.7,522.5 1364.3,523.7 1365.9,523.5 1367.5,522.8 1369.1,522.4 1370.7,523.2 1372.3,524.2 1373.9,523.5 1375.5,523.5 1377.1,522 1378.7,524.7 1380.3,522.5 1381.9,522.8 1383.5,523.7 1385.1,524.2 1386.7,524.3 1388.3,523.7 1389.9,524.2 1391.5,524 1393.1,523.1 1394.7,524.6 1396.3,524.3 1397.9,525.5 1399.5,525.1 1401.1,526.3 1402.7,526.2 1404.3,526.6 1405.9,527.1 1407.5,526.9 1409.1,526.4 1410.7,527.9 1412.3,526.2 1413.9,527.2 1415.5,528.1 1417.1,527.3 1418.7,528.3 1420.3,527.2 1421.9,527.5 1423.5,528.6 1425.1,528.8 1426.7,529.4 1428.3,528.4 1429.9,528.8 1431.5,529.2 1433.1,529.2 1434.7,527.8 1436.3,528.5 1437.9,530.3 1439.5,528.2 1441.1,529.8 1442.7,529.1 1444.3,530.3 1445.9,529 1447.5,529.8 1449.1,528.2 1450.7,529.9 1452.3,530.9 1453.9,528.9 1455.5,531.2 1457.1,529.8 1458.7,530.4 1460.3,528.4 1461.9,531.5 1463.5,530.1 1465.1,530.5 1466.7,530 1468.3,530.3 1469.9,532.1 1471.5,530.9 1473.1,532.1 1474.7,531.4 1476.3,531.9 1477.9,531.3 1479.5,532.1 1481.1,533.8 1482.7,532.4 1484.3,532.4 1485.9,531.7 1487.5,533 1489.1,533.3 1490.7,531 1492.3,531.4 1493.9,534.1 1495.5,532.9 1497.1,532.7 1498.7,533.1 1500.3,533.5 1501.9,533.3 1503.5,532.6 1505.1,534.4 1506.7,532.9 1508.3,532.2 1509.9,532.5 1511.5,532.9 1513.1,532.7 1514.7,532.9 1516.3,533.3 1517.9,530.7 1519.5,532.6 1521.1,533.9 1522.7,533.6 1524.3,532.8 1525.9,532.9 1527.5,534.2 1529.1,533.2 1530.7,533.1 1532.3,534.9 1533.9,533.3 1535.5,534.2 1537.1,533.7 1538.7,533.8 1540.3,533.2 1541.9,533.3 1543.5,534.9 1545.1,533.2 1546.7,534.3 1548.3,533.3 1549.9,534 1551.5,534.2 1553.1,533.1 1554.7,535.1 1556.3,534.2 1557.9,535.2 1559.5,533.8 1561.1,535.1 1562.7,536.1 1564.3,534.7 1565.9,534.1 1567.5,534.9 1569.1,534.7 1570.7,534.5 1572.3,534.6 1573.9,534.3 1575.5,535 1577.1,534.5 1578.7,534.2 1580.3,535.3 1581.9,534.7 1583.5,536.6 1585.1,534.7 1586.7,534.4 1588.3,534.5 1589.9,535.2 1591.5,534.5 1593.1,534.1 1594.7,536.1 1596.3,534.2 1597.9,536.1 1599.5,535.2 1601.1,534.4 1602.7,536.3 1604.3,535.1 1605.9,534.5 1607.5,535.3 1609.1,536.2 1610.7,535.8 1612.3,535.9 1613.9,536.6 1615.5,535.6 1617.1,535.7 1618.7,535.4 1620.3,534.6 1621.9,535.5 1623.5,536.7 1625.1,534.5 1626.7,536.6 1628.3,535.9 1629.9,535.2 1631.5,535.9 1633.1,537 1634.7,535.5 1636.3,536.5 1637.9,536.7" fill="none" stroke="#e6e6e6" stroke-width="3.1" stroke-linejoin="round" stroke-linecap="round"/>
<polyline points="1002,18.4 1003.6,30.4 1005.2,41.6 1006.8,51.6 1008.4,61.3 1010,69.7" fill="none" stroke="#3a3a3a" stroke-width="1.6" stroke-linejoin="round" stroke-linecap="round"/>
<polyline points="1010,69.7 1011.6,77.5 1013.2,82.9 1014.8,88.9 1016.4,91.1 1018,91.9 1019.6,99.7 1021.2,106.6 1022.8,117.4 1024.4,122.1 1026,129.1 1027.6,135.7 1029.2,138.7 1030.8,148.2 1032.4,148 1034,152.2 1035.6,158.5 1037.2,166.5 1038.8,168.8 1040.4,172.2 1042,179.6 1043.6,188.9 1045.2,193.2 1046.8,197.7 1048.4,204.3 1050,210.8 1051.6,217 1053.2,213 1054.8,217.2 1056.4,220.1 1058,220.3 1059.6,227.5 1061.2,231.6 1062.8,241 1064.4,243.6 1066,246.3 1067.6,259.3 1069.2,262.6 1070.8,262.3 1072.4,266.6 1074,268.3 1075.6,269.6 1077.2,274.5 1078.8,275.5 1080.4,286.8 1082,293.8 1083.6,296.5 1085.2,299.7 1086.8,302.9 1088.4,308.3 1090,308.6 1091.6,318.2 1093.2,315.7 1094.8,320 1096.4,318.3 1098,325.3 1099.6,326.6 1101.2,324.4 1102.8,330.1 1104.4,327.8 1106,337.6 1107.6,340.1 1109.2,339.3 1110.8,343.5 1112.4,347.7 1114,342.8 1115.6,348.6 1117.2,349.5 1118.8,357.9 1120.4,360.1 1122,364.7 1123.6,367.5 1125.2,368.9 1126.8,367.4 1128.4,374.7 1130,370.6 1131.6,375.3 1133.2,377.6 1134.8,376.4 1136.4,380.4 1138,384.5 1139.6,384.4 1141.2,384.8 1142.8,383 1144.4,389 1146,392 1147.6,394.4 1149.2,395.5 1150.8,399.9 1152.4,399.6 1154,401.9 1155.6,404.7 1157.2,402.9 1158.8,405.1 1160.4,411.1 1162,409.8 1163.6,406.8 1165.2,410.3 1166.8,412.7 1168.4,415.2 1170,414.4 1171.6,414.5 1173.2,415.8 1174.8,420.3 1176.4,421.7 1178,422.2 1179.6,424.4 1181.2,425.5 1182.8,429 1184.4,427.7 1186,431.2 1187.6,433.1 1189.2,433.6 1190.8,432.4 1192.4,437.6 1194,435.1 1195.6,438.4 1197.2,437.5 1198.8,436.9 1200.4,441.7 1202,443 1203.6,443.5 1205.2,445.2 1206.8,444.6 1208.4,445.5 1210,447.4 1211.6,451.9 1213.2,450.8 1214.8,449.3 1216.4,451.9 1218,450.9 1219.6,451.7 1221.2,454.8 1222.8,453.3 1224.4,452.2 1226,454.5 1227.6,457.1 1229.2,458.2 1230.8,461.1 1232.4,458.8 1234,462.2 1235.6,462.8 1237.2,462.9 1238.8,465.7 1240.4,466.3 1242,465.2 1243.6,469.5 1245.2,466.8 1246.8,469.9 1248.4,470.7 1250,472.3 1251.6,471.3 1253.2,473.3 1254.8,474 1256.4,476.6 1258,474.5 1259.6,476.7 1261.2,476.9 1262.8,476 1264.4,482.9 1266,479.3 1267.6,477.7 1269.2,482.9 1270.8,479.6 1272.4,482.5 1274,484 1275.6,482.4 1277.2,483.5 1278.8,484.1 1280.4,485.6 1282,484.2 1283.6,485.6 1285.2,488 1286.8,490.6 1288.4,490.6 1290,492.9 1291.6,491.9 1293.2,490.7 1294.8,491.8 1296.4,489.6 1298,491.7 1299.6,492.2 1301.2,494.7 1302.8,495.9 1304.4,494.9 1306,495.6 1307.6,495 1309.2,497.6 1310.8,498.8 1312.4,499.5 1314,498 1315.6,502.1 1317.2,501.1 1318.8,499.4 1320.4,498.9 1322,499.3 1323.6,500.1 1325.2,500 1326.8,500.8 1328.4,501.4 1330,502.5 1331.6,502.5 1333.2,501.1 1334.8,502.1 1336.4,501.4 1338,501.5 1339.6,505.3 1341.2,502.5 1342.8,506.3 1344.4,503.7 1346,505.2 1347.6,506.9 1349.2,506.1 1350.8,507.2 1352.4,507 1354,507.2 1355.6,508.1 1357.2,507.8 1358.8,511 1360.4,508.8 1362,511.4 1363.6,505.8 1365.2,509.4 1366.8,510.2 1368.4,509.2 1370,511.1 1371.6,510.6 1373.2,509.7 1374.8,511 1376.4,514.6 1378,512.1 1379.6,512.9 1381.2,512.7 1382.8,513.9 1384.4,512.5 1386,514.2 1387.6,517.8 1389.2,516.4 1390.8,516.2 1392.4,517 1394,518.2 1395.6,516.9 1397.2,519 1398.8,518.1 1400.4,517.3 1402,519.5 1403.6,515 1405.2,517.5 1406.8,518.9 1408.4,517.8 1410,518.9 1411.6,518.5 1413.2,518.3 1414.8,521.9 1416.4,518.9 1418,517.4 1419.6,518.4 1421.2,516.1 1422.8,517.3 1424.4,516.8 1426,518.7 1427.6,515.7 1429.2,519.1 1430.8,519.1 1432.4,518.3 1434,521.4 1435.6,519.9 1437.2,523.4 1438.8,522.7 1440.4,523.4 1442,523 1443.6,523.7 1445.2,519.6 1446.8,520.6 1448.4,519.1 1450,520.3 1451.6,520.3 1453.2,521.8 1454.8,521 1456.4,524.7 1458,525.9 1459.6,523.6 1461.2,524 1462.8,524.3 1464.4,525.3 1466,525.9 1467.6,522.5 1469.2,523 1470.8,522.5 1472.4,522.4 1474,521.7 1475.6,523.9 1477.2,522.5 1478.8,525.9 1480.4,526 1482,524.6 1483.6,525.2 1485.2,525.9 1486.8,527.9 1488.4,525.4 1490,524.5 1491.6,525.8 1493.2,526 1494.8,524.8 1496.4,527 1498,525.6 1499.6,526 1501.2,525 1502.8,526.3 1504.4,526.7 1506,525 1507.6,528 1509.2,526.2 1510.8,528.1 1512.4,526.7 1514,530.3 1515.6,528.7 1517.2,529.4 1518.8,529.5 1520.4,527.4 1522,526.5 1523.6,528.5 1525.2,529.7 1526.8,529 1528.4,529.7 1530,529.9 1531.6,527.5 1533.2,529.3 1534.8,530.9 1536.4,528.4 1538,527 1539.6,528.8 1541.2,528.5 1542.8,529.4 1544.4,528.1 1546,529.1 1547.6,526.8 1549.2,529.8 1550.8,530.5 1552.4,530.3 1554,527.5 1555.6,529.3 1557.2,526.1 1558.8,529.3 1560.4,529.1 1562,528.4 1563.6,530.1 1565.2,530.2 1566.8,531.3 1568.4,530.8 1570,531 1571.6,529 1573.2,529.7 1574.8,530.4 1576.4,531.1 1578,530.8 1579.6,532.2 1581.2,530 1582.8,530.6 1584.4,531 1586,530.6 1587.6,531.3 1589.2,530.3 1590.8,532.1 1592.4,530.5 1594,531.8 1595.6,530.8 1597.2,532.2 1598.8,529.5 1600.4,531.3 1602,530.4 1603.6,531.1 1605.2,532 1606.8,529.9 1608.4,529.7 1610,530.1 1611.6,531.3 1613.2,529.3 1614.8,531.2 1616.4,530 1618,530.1 1619.6,530.9 1621.2,531.7 1622.8,530.8 1624.4,531 1626,531.4 1627.6,531.3 1629.2,529.2 1630.8,531.3 1632.4,531.8 1634,532.8 1635.6,533.7 1637.2,532.6" fill="none" stroke="#3a3a3a" stroke-width="3.1" stroke-linejoin="round" stroke-linecap="round"/>
</g>
<rect x="998" y="18" width="641" height="520" fill="none" stroke="#2b2b2b" stroke-width="1.8"/>
<line x1="987.5" y1="538" x2="998" y2="538" stroke="#2b2b2b" stroke-width="1.8"/>
<text class="s e" transform="translate(980.8 547.8) scale(0.9 1)" font-size="36">0.0</text>
<line x1="992.5" y1="486" x2="998" y2="486" stroke="#2b2b2b" stroke-width="1.8"/>
<line x1="987.5" y1="434" x2="998" y2="434" stroke="#2b2b2b" stroke-width="1.8"/>
<text class="s e" transform="translate(980.8 443.8) scale(0.9 1)" font-size="36">0.2</text>
<line x1="992.5" y1="382" x2="998" y2="382" stroke="#2b2b2b" stroke-width="1.8"/>
<line x1="987.5" y1="330" x2="998" y2="330" stroke="#2b2b2b" stroke-width="1.8"/>
<text class="s e" transform="translate(980.8 339.8) scale(0.9 1)" font-size="36">0.4</text>
<line x1="992.5" y1="278" x2="998" y2="278" stroke="#2b2b2b" stroke-width="1.8"/>
<line x1="987.5" y1="226" x2="998" y2="226" stroke="#2b2b2b" stroke-width="1.8"/>
<text class="s e" transform="translate(980.8 235.8) scale(0.9 1)" font-size="36">0.6</text>
<line x1="992.5" y1="174" x2="998" y2="174" stroke="#2b2b2b" stroke-width="1.8"/>
<line x1="987.5" y1="122" x2="998" y2="122" stroke="#2b2b2b" stroke-width="1.8"/>
<text class="s e" transform="translate(980.8 131.8) scale(0.9 1)" font-size="36">0.8</text>
<line x1="992.5" y1="70" x2="998" y2="70" stroke="#2b2b2b" stroke-width="1.8"/>
<line x1="987.5" y1="18" x2="998" y2="18" stroke="#2b2b2b" stroke-width="1.8"/>
<text class="s e" transform="translate(980.8 27.8) scale(0.9 1)" font-size="36">1.0</text>
<line x1="998" y1="538" x2="998" y2="548.5" stroke="#2b2b2b" stroke-width="1.8"/>
<text class="s m" transform="translate(998 580) scale(0.9 1)" font-size="36">0</text>
<line x1="1051.4" y1="538" x2="1051.4" y2="543.5" stroke="#2b2b2b" stroke-width="1.8"/>
<line x1="1104.8" y1="538" x2="1104.8" y2="548.5" stroke="#2b2b2b" stroke-width="1.8"/>
<text class="s m" transform="translate(1104.8 580) scale(0.9 1)" font-size="36">1</text>
<line x1="1158.2" y1="538" x2="1158.2" y2="543.5" stroke="#2b2b2b" stroke-width="1.8"/>
<line x1="1211.7" y1="538" x2="1211.7" y2="548.5" stroke="#2b2b2b" stroke-width="1.8"/>
<text class="s m" transform="translate(1211.7 580) scale(0.9 1)" font-size="36">2</text>
<line x1="1265.1" y1="538" x2="1265.1" y2="543.5" stroke="#2b2b2b" stroke-width="1.8"/>
<line x1="1318.5" y1="538" x2="1318.5" y2="548.5" stroke="#2b2b2b" stroke-width="1.8"/>
<text class="s m" transform="translate(1318.5 580) scale(0.9 1)" font-size="36">3</text>
<line x1="1371.9" y1="538" x2="1371.9" y2="543.5" stroke="#2b2b2b" stroke-width="1.8"/>
<line x1="1425.3" y1="538" x2="1425.3" y2="548.5" stroke="#2b2b2b" stroke-width="1.8"/>
<text class="s m" transform="translate(1425.3 580) scale(0.9 1)" font-size="36">4</text>
<line x1="1478.8" y1="538" x2="1478.8" y2="543.5" stroke="#2b2b2b" stroke-width="1.8"/>
<line x1="1532.2" y1="538" x2="1532.2" y2="548.5" stroke="#2b2b2b" stroke-width="1.8"/>
<text class="s m" transform="translate(1532.2 580) scale(0.9 1)" font-size="36">5</text>
<line x1="1585.6" y1="538" x2="1585.6" y2="543.5" stroke="#2b2b2b" stroke-width="1.8"/>
<line x1="1639" y1="538" x2="1639" y2="548.5" stroke="#2b2b2b" stroke-width="1.8"/>
<text class="s m" transform="translate(1639 580) scale(0.9 1)" font-size="36">6</text>
<text class="s l" transform="translate(1235.6 643) scale(0.97 1)" font-size="45">time <tspan class="f" font-size="45" dx="0.5">(μs)</tspan></text>
<text class="s m" transform="translate(889.5 294) rotate(-90) scale(0.97 1)" font-size="45">counts(a.u.)</text>
<text class="f m" transform="translate(1044.2 62) scale(1.04 1)" font-size="46">(b)</text>
<line x1="1105.3" y1="330" x2="1291.5" y2="202.5" stroke="#000" stroke-width="2.2"/>
<polygon points="1312.1,188.4 1297.4,214.7 1282.3,192.6" fill="#000"/>
<line x1="1153.6" y1="439" x2="1295.5" y2="252.1" stroke="#000" stroke-width="2.2"/>
<polygon points="1310.6,232.2 1304.9,261.8 1283.6,245.6" fill="#000"/>
<line x1="1318" y1="189.7" x2="1390.5" y2="189.7" stroke="#3a3a3a" stroke-width="3.6" stroke-linecap="round"/>
<line x1="1318" y1="230" x2="1390.5" y2="230" stroke="#e6e6e6" stroke-width="3.6" stroke-linecap="round"/>
<text class="s l" transform="translate(1399.2 200.6) scale(1.028 1)" font-size="32">blue</text>
<text class="s l" transform="translate(1399.2 241.6) scale(1.028 1)" font-size="32">blue-green</text>
</g>
</svg>
</body></html>
